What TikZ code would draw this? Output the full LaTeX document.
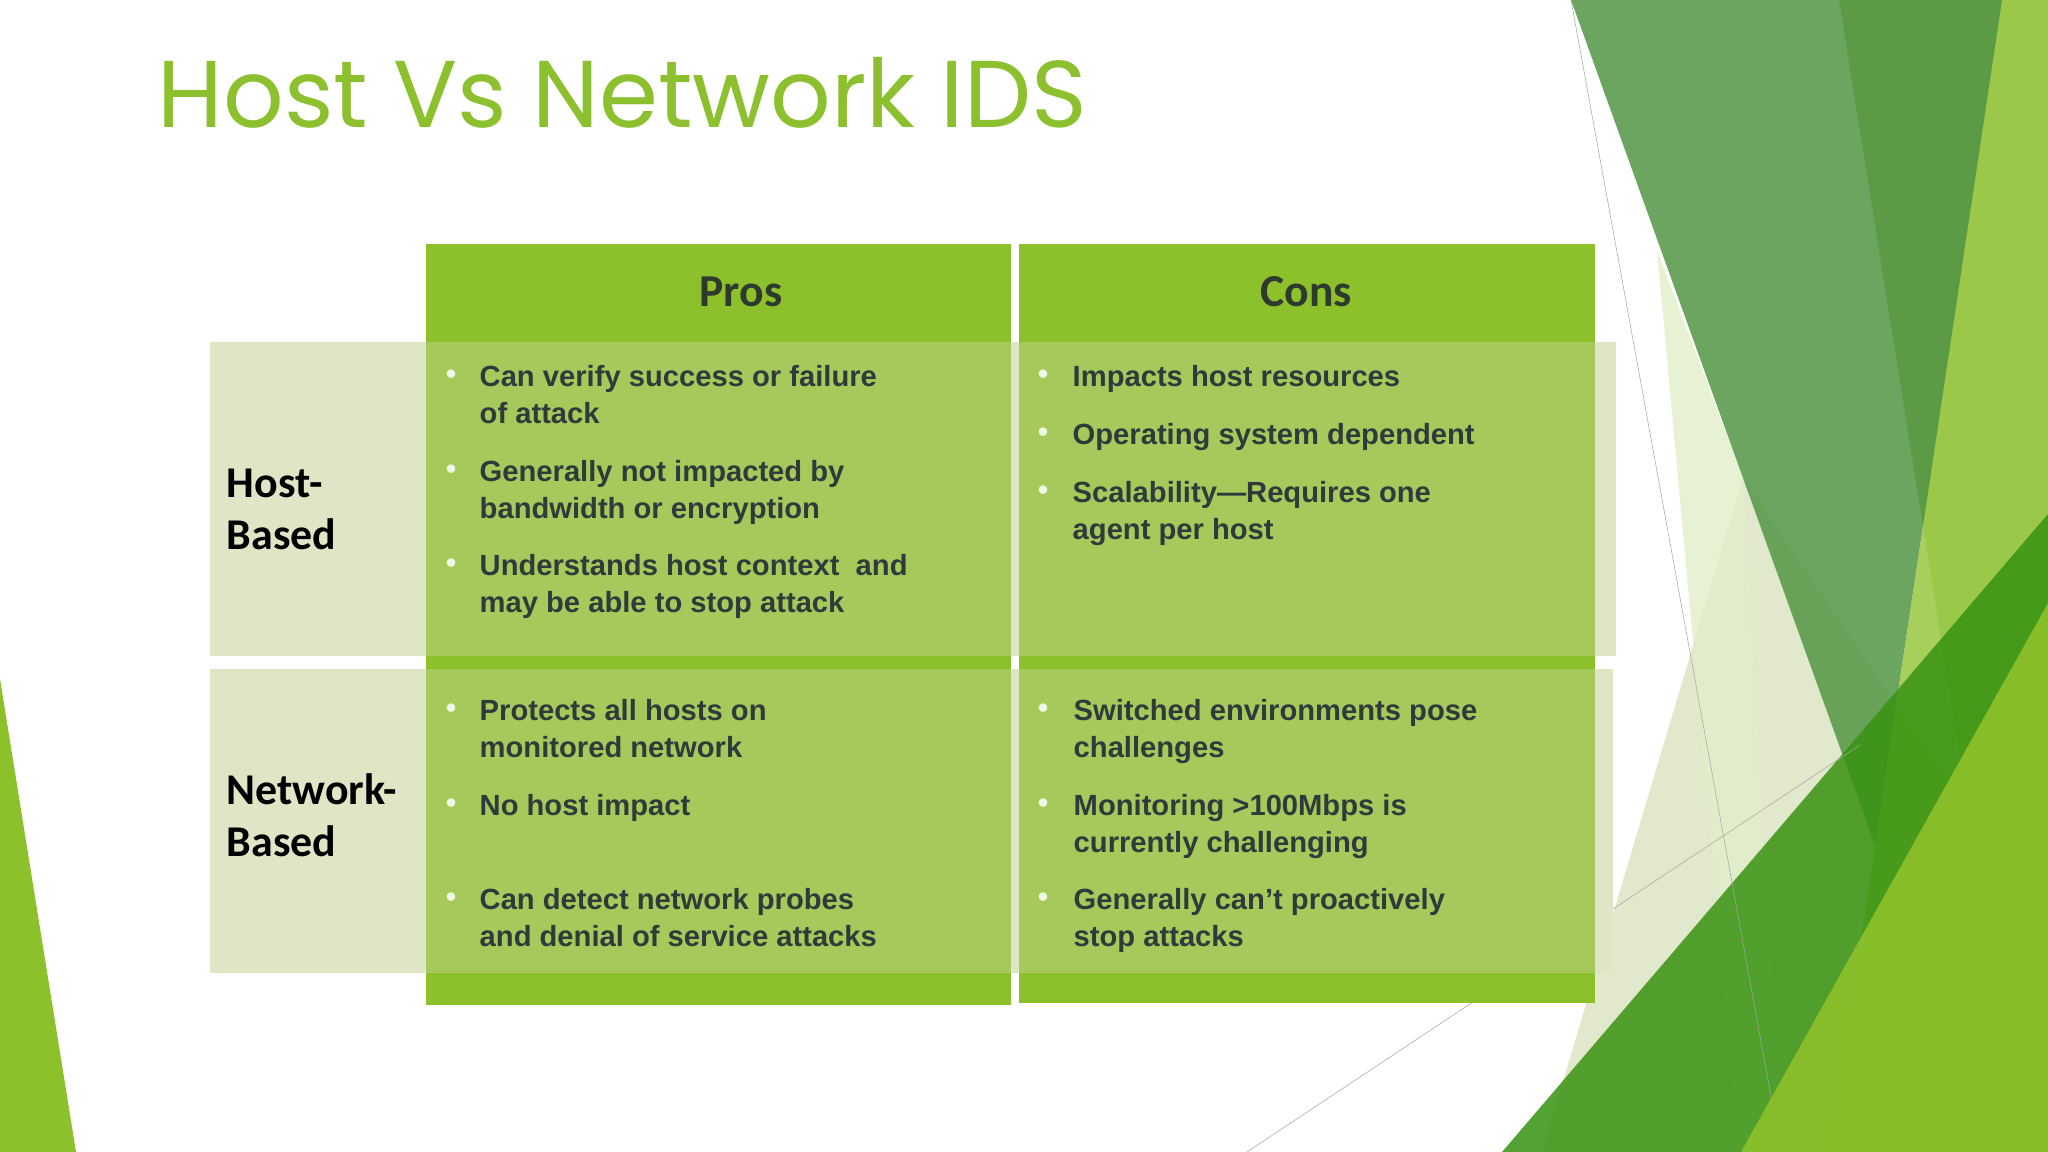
\documentclass[tikz,border=0pt]{standalone}
\usepackage{fontspec}
\setmainfont{Liberation Sans}
\newfontfamily\titlefont{Poppins}
\newfontfamily\calfont{Carlito}
\begin{document}
\begin{tikzpicture}[x=0.1mm,y=-0.1mm,
  hdr/.style={fill=hdrgreen,draw=none},
  body/.style={fill=bodygreen,draw=none},
  pale/.style={fill=palecell,draw=none},
  facet/.style={draw=none},
  thin/.style={draw=gray!70,line width=0.15pt},
  htxt/.style={font=\calfont\bfseries\fontsize{13}{15}\selectfont,text=txtdark},
  ltxt/.style={font=\calfont\bfseries\fontsize{12.5}{14.7}\selectfont,text=black,anchor=base west,inner sep=0},
  btxt/.style={font=\bfseries\fontsize{8.3}{10.4}\selectfont,text=txtbody,anchor=base west,inner sep=0},
  bul/.style={font=\fontsize{5}{6}\selectfont,text=white!85!bodygreen,anchor=base west,inner sep=0}]
\definecolor{hdrgreen}{HTML}{8DC12B}
\definecolor{bodygreen}{HTML}{A5C95A}
\definecolor{palecell}{HTML}{DEE6C6}
\definecolor{txtdark}{HTML}{2E3A2E}
\definecolor{txtbody}{HTML}{2F3B3B}
\definecolor{titlegreen}{HTML}{8DC02F}
\useasboundingbox (0,0) rectangle (2048,1152);
\fill[white] (0,0) rectangle (2048,1152);
% facets
\fill[facet,fill=hdrgreen] (0,679) -- (76,1152) -- (0,1152) -- cycle;
\fill[facet,fill=palecell,opacity=0.9] (1743,478) -- (1960,800) -- (1900,1152) -- (1542,1152) -- cycle;
\fill[facet,fill=white!75!hdrgreen,opacity=0.8] (1657,250) -- (1743,478) -- (1780,1152) -- (1740,1152) -- cycle;
\fill[facet,fill=hdrgreen!90!black,opacity=0.85] (1839,0) -- (2048,0) -- (2048,1152) -- (2023,1152) -- cycle;
\fill[facet,fill=white!15!hdrgreen,opacity=0.9] (2002,0) -- (2048,0) -- (2048,1152) -- (1829,1152) -- cycle;
\fill[facet,fill=black!25!green!40!gray!90!olive,opacity=0.85] (1571,0) -- (2002,0) -- (1875,845) -- cycle;
\fill[facet,fill=green!45!black!60!hdrgreen,opacity=0.85] (1502,1152) -- (2048,514) -- (2048,1152) -- cycle;
\fill[facet,fill=hdrgreen,opacity=0.9] (1741,1152) -- (2048,603) -- (2048,1152) -- cycle;
\coordinate (l1a) at (1571,0); \coordinate (l1b) at (1772,1102);
\coordinate (l2a) at (1247,1152); \coordinate (l2b) at (1860,745);
\draw[thin] (l1a) -- (l1b);
\draw[thin] (l2a) -- (l2b);
% title
\node[font=\titlefont\fontsize{27}{32}\selectfont,text=titlegreen,anchor=base west,inner sep=0] (title) at (157,128) {Host Vs Network IDS};
% table backgrounds
\fill[pale] (210,342) rectangle (1616,656);
\fill[pale] (210,669) rectangle (1613,973);
\fill[hdr] (426,244) rectangle (1011,342);
\fill[hdr] (1019,244) rectangle (1595,342);
\fill[body] (426,342) rectangle (1011,656);
\fill[body] (1019,342) rectangle (1595,656);
\fill[hdr] (426,656) rectangle (1011,669);
\fill[hdr] (1019,656) rectangle (1595,669);
\fill[body] (426,669) rectangle (1011,973);
\fill[body] (1019,669) rectangle (1595,973);
\fill[hdr] (426,973) rectangle (1011,1005);
\fill[hdr] (1019,973) rectangle (1595,1003);
\node[htxt] (pros) at (741,292) {Pros};
\node[htxt] (cons) at (1306,292) {Cons};
\node[ltxt] (h1) at (226,498) {Host-};
\node[ltxt] (h2) at (226,550) {Based};
\node[ltxt] (n1) at (226,805) {Network-};
\node[ltxt] (n2) at (226,857) {Based};
% host pros
\foreach \y in {387,482,576}{\node[bul] at (444,\y-8) {$\bullet$};}
\node[btxt] (a1) at (479,387) {Can verify success or failure};
\node[btxt] (a2) at (479,424) {of attack};
\node[btxt] (a3) at (479,482) {Generally not impacted by};
\node[btxt] (a4) at (479,519) {bandwidth or encryption};
\node[btxt] (a5) at (479,576) {Understands host context\ \ and};
\node[btxt] (a6) at (479,613) {may be able to stop attack};
% host cons
\foreach \y in {387,445,503}{\node[bul] at (1036,\y-8) {$\bullet$};}
\node[btxt] (b1) at (1072,387) {Impacts host resources};
\node[btxt] (b2) at (1072,445) {Operating system dependent};
\node[btxt] (b3) at (1072,503) {Scalability---Requires one};
\node[btxt] (b4) at (1072,540) {agent per host};
% network pros
\foreach \y in {721,816,910}{\node[bul] at (444,\y-8) {$\bullet$};}
\node[btxt] (c1) at (479,721) {Protects all hosts on};
\node[btxt] (c2) at (479,758) {monitored network};
\node[btxt] (c3) at (479,816) {No host impact};
\node[btxt] (c4) at (479,910) {Can detect network probes};
\node[btxt] (c5) at (479,947) {and denial of service attacks};
% network cons
\foreach \y in {721,816,910}{\node[bul] at (1036,\y-8) {$\bullet$};}
\node[btxt] (d1) at (1073,721) {Switched environments pose};
\node[btxt] (d2) at (1073,758) {challenges};
\node[btxt] (d3) at (1073,816) {Monitoring >100Mbps is};
\node[btxt] (d4) at (1073,853) {currently challenging};
\node[btxt] (d5) at (1073,910) {Generally can’t proactively};
\node[btxt] (d6) at (1073,947) {stop attacks};
\end{tikzpicture}
\end{document}
